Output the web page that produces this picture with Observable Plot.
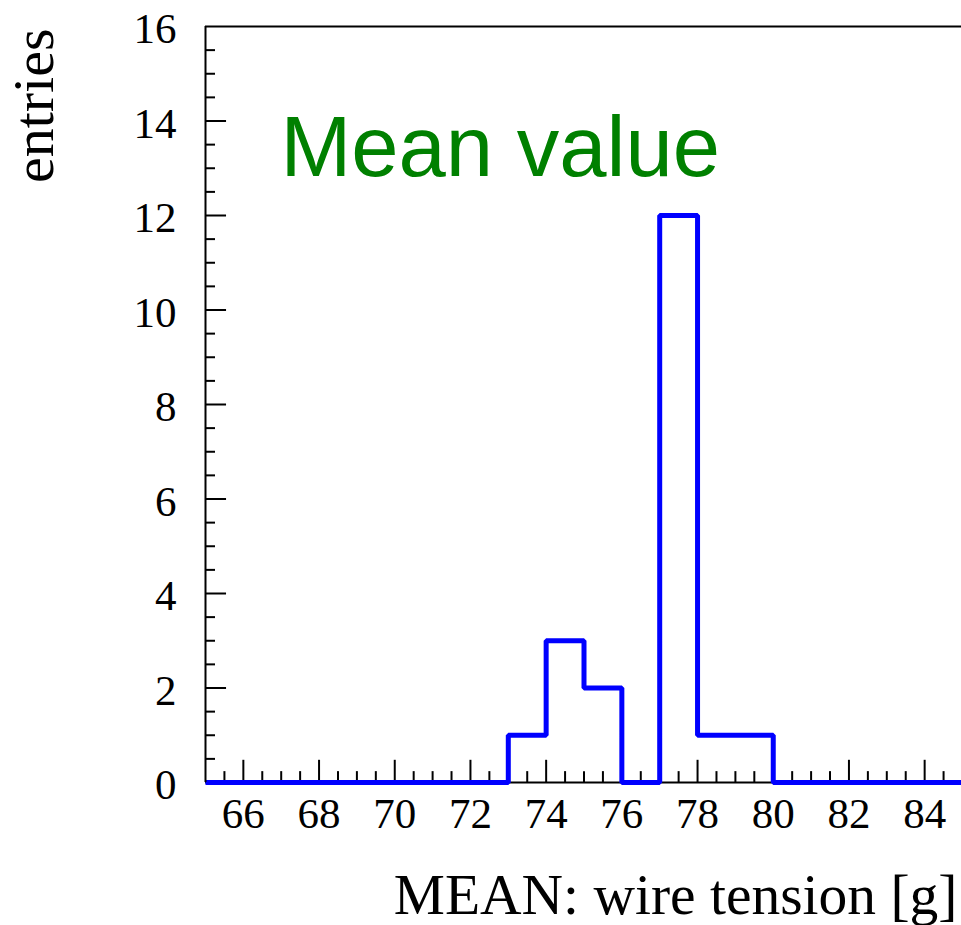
<!DOCTYPE html>
<html>
<head>
<meta charset="utf-8">
<script src="https://cdn.jsdelivr.net/npm/d3@7"></script>
<script src="https://cdn.jsdelivr.net/npm/@observablehq/plot@0.6"></script>
<style>
  html, body { margin: 0; padding: 0; background: white; }
</style>
</head>
<body>
<div id="chart"></div>
<script>
// Histogram bin low edges (last entry closes the range) and bin contents
const binEdges = [65, 66, 67, 68, 69, 70, 71, 72, 73, 74, 75, 76, 77, 78, 79, 80, 81, 82, 83, 84, 85];
const binCounts = [0, 0, 0, 0, 0, 0, 0, 0, 1, 3, 2, 0, 12, 1, 1, 0, 0, 0, 0, 0, 0];

const xTickLabels = [66, 68, 70, 72, 74, 76, 78, 80, 82, 84];
const yTickLabels = [0, 2, 4, 6, 8, 10, 12, 14, 16];

const titleText = "Mean value";
const xLabel = "MEAN: wire tension [g]";
const yLabel = "entries";

const hist = binEdges.map((x, i) => ({x, n: binCounts[i]}));

const xMinor = d3.range(65.5, 85, 0.5).filter(v => v % 2 !== 0);
const xMajor = d3.range(66, 85, 2);
const yMinor = d3.range(0.5, 16, 0.5).filter(v => v % 2 !== 0);
const yMajor = d3.range(2, 16, 2);

const serif = "'Liberation Serif', 'Times New Roman', serif";
const sans = "'Liberation Sans', Arial, Helvetica, sans-serif";

const chart = Plot.plot({
  width: 961,
  height: 925,
  marginTop: 26,
  marginBottom: 143,
  marginLeft: 205,
  marginRight: -1,
  style: {background: "white", fontFamily: serif, fontSize: "42px", overflow: "visible"},
  x: {domain: [65, 85], label: null},
  y: {domain: [0, 16], label: null},
  marks: [
    // tick labels
    Plot.axisX(xTickLabels, {anchor: "bottom", tickSize: 0, tickPadding: 15, fontSize: 43, fontFamily: serif, fill: "black", label: null}),
    Plot.axisY(yTickLabels, {anchor: "left", tickSize: 0, tickPadding: 29, dy: 3, fontSize: 43, fontFamily: serif, fill: "black", label: null}),
    // bottom axis line
    Plot.ruleY([0], {stroke: "black", strokeWidth: 2}),
    // inward ticks on x
    Plot.ruleX(xMinor, {y1: 0, y2: 0.23, stroke: "black", strokeWidth: 2}),
    Plot.ruleX(xMajor, {y1: 0, y2: 0.47, stroke: "black", strokeWidth: 2}),
    // inward ticks on y
    Plot.ruleY(yMinor, {x1: 65, x2: 65.265, stroke: "black", strokeWidth: 2}),
    Plot.ruleY(yMajor, {x1: 65, x2: 65.556, stroke: "black", strokeWidth: 2}),
    // histogram outline
    Plot.line(hist, {x: "x", y: "n", curve: "step-after", stroke: "#0000ff", strokeWidth: 5, strokeLinejoin: "miter", strokeLinecap: "butt"}),
    // frame left and top
    Plot.ruleX([65], {stroke: "black", strokeWidth: 2}),
    Plot.ruleY([16], {stroke: "black", strokeWidth: 2}),
    // title
    Plot.text([titleText], {frameAnchor: "top-left", dx: 75, dy: 149, textAnchor: "start", lineAnchor: "bottom", fontSize: 85, fontFamily: sans, fill: "#008000"}),
    // axis titles
    Plot.text([xLabel], {frameAnchor: "bottom-right", dx: -5, dy: 131, textAnchor: "end", lineAnchor: "bottom", fontSize: 57.5, fontFamily: serif, fill: "black"}),
    Plot.text([yLabel], {frameAnchor: "top-left", dx: -153, dy: 2, rotate: -90, textAnchor: "end", lineAnchor: "bottom", fontSize: 58, fontFamily: serif, fill: "black"})
  ]
});

document.getElementById("chart").appendChild(chart);
</script>
</body>
</html>
